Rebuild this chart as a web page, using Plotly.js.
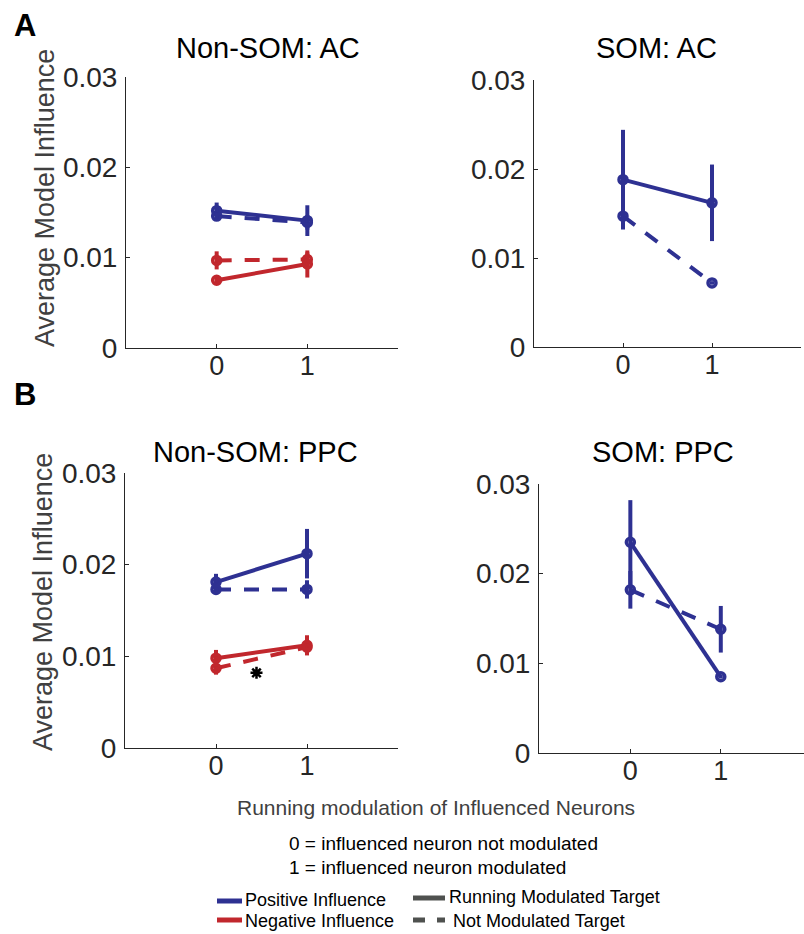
<!DOCTYPE html>
<html>
<head>
<meta charset="utf-8">
<script src="https://cdn.plot.ly/plotly-3.0.1.min.js"></script>
<style>html,body{margin:0;padding:0;background:#fff;}#plot{width:804px;height:934px;}</style>
</head>
<body>
<div id="plot"></div>
<script>
// ---- Data ----
const modulation = [0, 1];               // running modulation of influenced neuron
const xTickLabels = ['0', '1'];
const yTickVals = [0, 0.01, 0.02, 0.03];
const yTickLabels = ['0', '0.01', '0.02', '0.03'];
const panelTitles = ['Non-SOM: AC', 'SOM: AC', 'Non-SOM: PPC', 'SOM: PPC'];

// Non-SOM: AC
const acNonPosRun = [0.0152, 0.0141];
const acNonPosRunErr = [0.0009, 0.0017];
const acNonPosNot = [0.0146, 0.0139];
const acNonPosNotErr = [0.0005, 0.0008];
const acNonNegRun = [0.0075, 0.0093];
const acNonNegRunErr = [0.0004, 0.0015];
const acNonNegNot = [0.0097, 0.0098];
const acNonNegNotErr = [0.0010, 0.0008];

// SOM: AC
const acSomPosRun = [0.0188, 0.0162];
const acSomPosRunErr = [0.0056, 0.0043];
const acSomPosNot = [0.0147, 0.0072];
const acSomPosNotErr = [0.0003, 0.0002];

// Non-SOM: PPC
const ppcNonPosRun = [0.0181, 0.0212];
const ppcNonPosRunErr = [0.0009, 0.0027];
const ppcNonPosNot = [0.0173, 0.0173];
const ppcNonPosNotErr = [0.0005, 0.0010];
const ppcNonNegRun = [0.0098, 0.0112];
const ppcNonNegRunErr = [0.0009, 0.0011];
const ppcNonNegNot = [0.0087, 0.0110];
const ppcNonNegNotErr = [0.0007, 0.0006];
const ppcSignifX = [0.445];
const ppcSignifY = [0.0082];

// SOM: PPC
const ppcSomPosRun = [0.0235, 0.0085];
const ppcSomPosRunErr = [0.0047, 0.0002];
const ppcSomPosNot = [0.0182, 0.0138];
const ppcSomPosNotErr = [0.0021, 0.0026];

// ---- Styles ----
const BLUE = '#2e3192', RED = '#c1272d', GRAY = '#4f514f';
const DASH = '15px,13px';
const FONT = 'Liberation Sans, Arial, Helvetica, sans-serif';

function series(xa, ya, y, err, color, dashed) {
  return {
    type: 'scatter', mode: 'lines+markers', x: modulation, y: y,
    xaxis: xa, yaxis: ya, showlegend: false, hoverinfo: 'skip',
    line: {color: color, width: 4, dash: dashed ? DASH : 'solid'},
    marker: {symbol: 'circle-open', size: 8, color: color, line: {color: color, width: 3.5}},
    error_y: {type: 'data', array: err, visible: true, color: color, thickness: 4, width: 0}
  };
}

const data = [
  series('x', 'y', acNonPosNot, acNonPosNotErr, BLUE, true),
  series('x', 'y', acNonPosRun, acNonPosRunErr, BLUE, false),
  series('x', 'y', acNonNegNot, acNonNegNotErr, RED, true),
  series('x', 'y', acNonNegRun, acNonNegRunErr, RED, false),

  series('x2', 'y2', acSomPosNot, acSomPosNotErr, BLUE, true),
  series('x2', 'y2', acSomPosRun, acSomPosRunErr, BLUE, false),

  series('x3', 'y3', ppcNonPosNot, ppcNonPosNotErr, BLUE, true),
  series('x3', 'y3', ppcNonPosRun, ppcNonPosRunErr, BLUE, false),
  series('x3', 'y3', ppcNonNegNot, ppcNonNegNotErr, RED, true),
  series('x3', 'y3', ppcNonNegRun, ppcNonNegRunErr, RED, false),
  {type: 'scatter', mode: 'markers', x: ppcSignifX, y: ppcSignifY, xaxis: 'x3', yaxis: 'y3',
   showlegend: false, hoverinfo: 'skip',
   marker: {symbol: 'asterisk-open', size: 10, color: '#000', line: {color: '#000', width: 2.5}}},

  series('x4', 'y4', ppcSomPosNot, ppcSomPosNotErr, BLUE, true),
  series('x4', 'y4', ppcSomPosRun, ppcSomPosRunErr, BLUE, false)
];

const W = 804, H = 934;
const px = v => v / W;
const py = v => 1 - v / H;

function xax(domain, range) {
  return {domain: domain, range: range, tickvals: modulation, ticktext: xTickLabels,
    showline: true, linecolor: '#262626', linewidth: 1, ticks: 'inside', ticklen: 4, tickcolor: '#262626',
    showgrid: false, zeroline: false, fixedrange: true, ticklabelstandoff: -6,
    tickfont: {family: FONT, size: 27, color: '#262626'}};
}
function yax(domain, anchor) {
  return {domain: domain, range: [0, 0.03], tickvals: yTickVals, ticktext: yTickLabels, anchor: anchor,
    showline: true, linecolor: '#262626', linewidth: 1, ticks: 'inside', ticklen: 4, tickcolor: '#262626',
    showgrid: false, zeroline: false, fixedrange: true, ticklabelstandoff: 2,
    tickfont: {family: FONT, size: 28, color: '#262626'}};
}

function ann(text, x, y, size, opts) {
  return Object.assign({text: text, xref: 'paper', yref: 'paper', x: px(x), y: py(y),
    xanchor: 'center', yanchor: 'middle', showarrow: false,
    font: {family: FONT, size: size, color: '#000'}}, opts || {});
}

const annotations = [
  ann('<b>A</b>', 25, 26, 31),
  ann('<b>B</b>', 25, 394, 31),
  ann(panelTitles[0], 268, 48, 29),
  ann(panelTitles[1], 656, 48, 29),
  ann(panelTitles[2], 255, 452, 29),
  ann(panelTitles[3], 663, 452, 29),
  ann('Average Model Influence', 45, 198, 27, {textangle: -90, font: {family: FONT, size: 27, color: '#404040'}}),
  ann('Average Model Influence', 43, 602, 27, {textangle: -90, font: {family: FONT, size: 27, color: '#404040'}}),
  ann('Running modulation of Influenced Neurons', 436, 807, 21, {font: {family: FONT, size: 21, color: '#404040'}}),
  ann('0 = influenced neuron not modulated', 287, 843, 19, {xanchor: 'left'}),
  ann('1 = influenced neuron modulated', 287, 867, 19, {xanchor: 'left'}),
  ann('Positive Influence', 243, 900, 18, {xanchor: 'left'}),
  ann('Negative Influence', 243, 921, 18, {xanchor: 'left'}),
  ann('Running Modulated Target', 447, 897, 18, {xanchor: 'left'}),
  ann('Not Modulated Target', 451, 921, 18, {xanchor: 'left'})
];

function seg(x0, x1, y, color, dash) {
  return {type: 'line', xref: 'paper', yref: 'paper', x0: px(x0), x1: px(x1), y0: py(y), y1: py(y),
    line: {color: color, width: 5, dash: dash || 'solid'}};
}
const shapes = [
  seg(217, 242, 901, BLUE),
  seg(217, 242, 920, RED),
  seg(413, 445, 898, GRAY),
  seg(413, 445, 920, GRAY, '12px,12px')
];

const layout = {
  width: W, height: H, autosize: false,
  margin: {l: 0, r: 0, t: 0, b: 0},
  paper_bgcolor: '#fff', plot_bgcolor: '#fff',
  showlegend: false,
  xaxis: Object.assign(xax([px(126), px(398)], [-1, 2]), {anchor: 'y'}),
  yaxis: yax([py(348), py(77)], 'x'),
  xaxis2: Object.assign(xax([px(534), px(801)], [-1, 2]), {anchor: 'y2'}),
  yaxis2: yax([py(347), py(80)], 'x2'),
  xaxis3: Object.assign(xax([px(125), px(398)], [-1, 2]), {anchor: 'y3'}),
  yaxis3: yax([py(748), py(473)], 'x3'),
  xaxis4: Object.assign(xax([px(539), px(804)], [-1.01, 1.92]), {anchor: 'y4'}),
  yaxis4: yax([py(753), py(484)], 'x4'),
  annotations: annotations,
  shapes: shapes
};

Plotly.newPlot('plot', data, layout, {staticPlot: true, displayModeBar: false});
</script>
</body>
</html>
